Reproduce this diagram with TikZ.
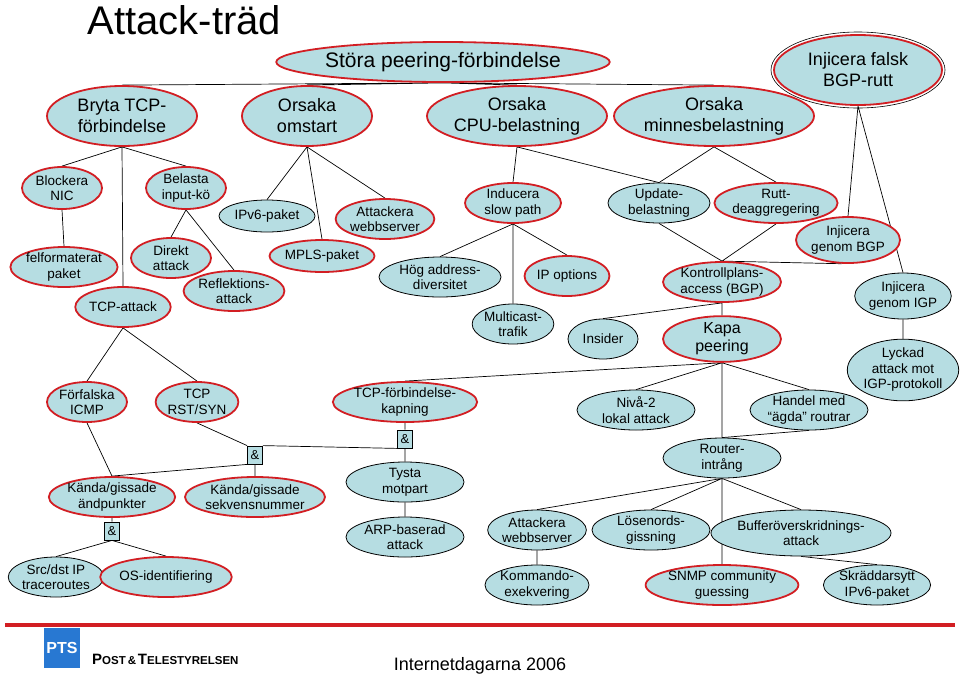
\documentclass[tikz,border=0pt]{standalone}
\usepackage{fontspec}
\setmainfont{Liberation Sans}
\usetikzlibrary{shapes.geometric,backgrounds}
\definecolor{fillb}{RGB}{182,221,226}
\definecolor{redb}{RGB}{210,30,35}
\definecolor{ptsblue}{RGB}{40,120,210}
\begin{document}
\begin{tikzpicture}[x=1pt,y=-1pt,
  base/.style={ellipse,fill=fillb,inner sep=0pt,align=center,font=\fontsize{13.5}{15.5}\selectfont},
  rn/.style={base,draw=redb,line width=1.8pt},
  bn/.style={base,draw=black,line width=0.8pt},
  big/.style={font=\fontsize{18}{21}\selectfont},
  andbox/.style={rectangle,draw=black,fill=fillb,line width=0.8pt,minimum width=15pt,minimum height=18pt,inner sep=0pt,font=\fontsize{13}{14}\selectfont},
  ln/.style={draw=black,line width=0.7pt}]
\useasboundingbox (0,0) rectangle (960,678);
\node[anchor=west,font=\fontsize{40}{40}\selectfont] (title) at (84,20) {Attack-träd};
\node[rn,minimum width=330,minimum height=40,font=\fontsize{21}{23}\selectfont] (stora) at (443,62) {Störa peering-förbindelse};
\node[ellipse,draw=black,line width=0.6pt,minimum width=174,minimum height=76] (injout) at (858,70) {};
\node[rn,big,minimum width=168,minimum height=70] (inj) at (858,70) {Injicera falsk\\BGP-rutt};
\node[rn,big,minimum width=150,minimum height=60] (bryta) at (122,116) {Bryta TCP-\\förbindelse};
\node[rn,big,minimum width=130,minimum height=60] (omstart) at (307,116) {Orsaka\\omstart};
\node[rn,big,minimum width=180,minimum height=60] (cpu) at (517,116) {Orsaka\\CPU-belastning};
\node[rn,big,minimum width=200,minimum height=60] (minne) at (714,116) {Orsaka\\minnesbelastning};
\node[rn,minimum width=80,minimum height=42] (nic) at (62,188) {Blockera\\NIC};
\node[rn,minimum width=80,minimum height=42] (belasta) at (186,188) {Belasta\\input-kö};
\node[rn,minimum width=104,minimum height=40] (felf) at (64,267) {felformaterat\\paket};
\node[rn,minimum width=80,minimum height=40] (tcpatt) at (123,307) {TCP-attack};
\node[rn,minimum width=80,minimum height=40] (direkt) at (171,258) {Direkt\\attack};
\node[rn,minimum width=80,minimum height=40] (refl) at (234,291) {Reflektions-\\attack};
\node[bn,minimum width=96,minimum height=32] (ipv6) at (267,216) {IPv6-paket};
\node[rn,minimum width=96,minimum height=32] (mpls) at (322,256) {MPLS-paket};
\node[rn,minimum width=80,minimum height=40] (attw) at (385,219) {Attackera\\webbserver};
\node[rn,minimum width=96,minimum height=40] (slow) at (513,203) {Inducera\\slow path};
\node[bn,minimum width=102,minimum height=40] (update) at (659,203) {Update-\\belastning};
\node[rn,minimum width=118,minimum height=40] (rutt) at (776,203) {Rutt-\\deaggregering};
\node[rn,minimum width=86,minimum height=46] (ibgp) at (848,240) {Injicera\\genom BGP};
\node[bn,minimum width=88,minimum height=46] (iigp) at (903,296) {Injicera\\genom IGP};
\node[bn,minimum width=110,minimum height=56] (lyckad) at (903,370) {Lyckad\\attack mot\\IGP-protokoll};
\node[bn,minimum width=122,minimum height=40] (hog) at (440,277) {Hög address-\\diversitet};
\node[rn,minimum width=78,minimum height=40] (ipopt) at (567,276) {IP options};
\node[bn,minimum width=78,minimum height=40] (multi) at (513,324) {Multicast-\\trafik};
\node[rn,minimum width=118,minimum height=40] (kontr) at (722,282) {Kontrollplans-\\access (BGP)};
\node[bn,minimum width=70,minimum height=40] (insider) at (603,339) {Insider};
\node[rn,minimum width=118,minimum height=40,font=\fontsize{16}{18}\selectfont] (kapa) at (722,339) {Kapa\\peering};
\node[rn,minimum width=80,minimum height=40] (icmp) at (87,402) {Förfalska\\ICMP};
\node[rn,minimum width=80,minimum height=40] (rst) at (197,402) {TCP\\RST/SYN};
\node[rn,minimum width=118,minimum height=40] (kap) at (405,402) {TCP-förbindelse-\\kapning};
\node[bn,minimum width=118,minimum height=40] (niva) at (636,410) {Nivå-2\\lokal attack};
\node[bn,minimum width=118,minimum height=40] (handel) at (809,410) {Handel med\\“ägda” routrar};
\node[andbox] (and1) at (255,455) {\&};
\node[andbox] (and2) at (405,439) {\&};
\node[rn,minimum width=124,minimum height=40] (kande) at (112,497) {Kända/gissade\\ändpunkter};
\node[rn,minimum width=118,minimum height=40] (kseq) at (255,497) {Kända/gissade\\sekvensnummer};
\node[bn,minimum width=118,minimum height=40] (tysta) at (405,482) {Tysta\\motpart};
\node[bn,minimum width=118,minimum height=40] (arp) at (405,537) {ARP-baserad\\attack};
\node[andbox] (and3) at (112,531) {\&};
\node[bn,minimum width=95,minimum height=40] (src) at (56,577) {Src/dst IP\\traceroutes};
\node[rn,minimum width=94,minimum height=40] (osid) at (166,577) {OS-identifiering};
\node[bn,minimum width=118,minimum height=40] (router) at (722,458) {Router-\\intrång};
\node[bn,minimum width=90,minimum height=40] (attw2) at (537,530) {Attackera\\webbserver};
\node[bn,minimum width=118,minimum height=40] (losen) at (651,530) {Lösenords-\\gissning};
\node[rn,minimum width=130,minimum height=40] (snmp) at (722,585) {SNMP community\\guessing};
\node[bn,minimum width=130,minimum height=46] (buff) at (801,533) {Bufferöverskridnings-\\attack};
\node[bn,minimum width=90,minimum height=40] (komm) at (537,585) {Kommando-\\exekvering};
\node[bn,minimum width=94,minimum height=40] (skr) at (877,585) {Skräddarsytt\\IPv6-paket};
\begin{scope}[on background layer]
\path[ln] (stora.south) -- (bryta.north) (stora.south) -- (omstart.north)
  (stora.south) -- (cpu.north) (stora.south) -- (minne.north);
\path[ln] (bryta.south) -- (nic.north) (bryta.south) -- (tcpatt.north) (bryta.south) -- (belasta.north);
\path[ln] (nic.south) -- (felf.north) (belasta.south) -- (direkt.north) (belasta.south) -- (refl.north);
\path[ln] (omstart.south) -- (ipv6.north) (omstart.south) -- (mpls.north) (omstart.south) -- (attw.north);
\path[ln] (cpu.south) -- (slow.north) (cpu.south) -- (update.north) (minne.south) -- (update.north) (minne.south) -- (rutt.north);
\path[ln] (inj.south) -- (ibgp.north) (inj.south) -- (iigp.north) (iigp.south) -- (lyckad.north);
\path[ln] (update.south) -- (kontr.north) (rutt.south) -- (kontr.north) (kontr.north) -- (ibgp.255);
\path[ln] (slow.south) -- (hog.north) (slow.south) -- (ipopt.north) (slow.south) -- (multi.north);
\path[ln] (kontr.south) -- (insider.north) (kontr.south) -- (kapa.north);
\path[ln] (kapa.south) -- (kap.north) (kapa.south) -- (niva.north) (kapa.south) -- (router.north) (kapa.south) -- (handel.north);
\path[ln] (handel.south) -- (router.north);
\path[ln] (tcpatt.south) -- (icmp.north) (tcpatt.south) -- (rst.north);
\path[ln] (icmp.south) -- (kande.north) (rst.south) -- (and1.north west) (and1.south west) -- (kande.north) (and1.south) -- (kseq.north);
\path[ln] (and1.north east) -- (and2.south west) (kap.south) -- (and2.north) (and2.south) -- (tysta.north) (tysta.south) -- (arp.north);
\path[ln] (kande.south) -- (and3.north) (and3.south) -- (src.north) (and3.south) -- (osid.north);
\path[ln] (router.south) -- (attw2.north) (router.south) -- (losen.north) (router.south) -- (snmp.north) (router.south) -- (buff.north);
\path[ln] (attw2.south) -- (komm.north) (buff.south) -- (skr.north);
\end{scope}
\draw[redb,line width=4pt] (5,625) -- (955,625);
\node[rectangle,fill=ptsblue,minimum width=36,minimum height=40,inner sep=0pt,text=white,font=\fontsize{16}{16}\bfseries\selectfont] (logo) at (62,648) {\raisebox{-9pt}{PTS}};
\node[anchor=west,inner sep=0pt] (pts) at (92,659) {\bfseries{\fontsize{15}{15}\selectfont P}{\fontsize{11.5}{11.5}\selectfont OST}{\fontsize{11.5}{11.5}\selectfont\,\&\,}{\fontsize{15}{15}\selectfont T}{\fontsize{11.5}{11.5}\selectfont ELESTYRELSEN}};
\node[font=\fontsize{18}{18}\selectfont] (inet) at (480,666) {Internetdagarna 2006};
\end{tikzpicture}
\end{document}
